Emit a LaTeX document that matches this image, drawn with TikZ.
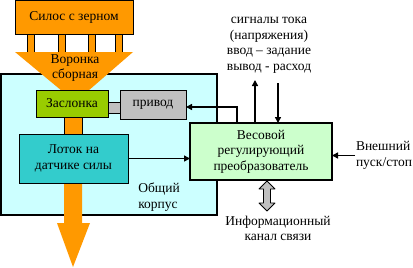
\documentclass[tikz,border=0pt]{standalone}
\usepackage{fontspec}
\setmainfont{Liberation Serif}
\usetikzlibrary{arrows.meta}
\definecolor{corange}{HTML}{FF9900}
\definecolor{ccyan}{HTML}{CCFFFF}
\definecolor{cgreen}{HTML}{CCFFCC}
\definecolor{colive}{HTML}{99CC00}
\definecolor{cteal}{HTML}{33CCCC}
\definecolor{cgray}{HTML}{C0C0C0}
\begin{document}
\begin{tikzpicture}[x=1pt,y=-1pt,
  font=\fontsize{13.5}{15.5}\selectfont,
  box/.style={draw=black, line width=1pt, inner sep=0pt, outer sep=0pt, align=center},
  thickbox/.style={box, line width=1.6pt},
  txt/.style={inner sep=0pt, outer sep=0pt, align=center},
  arr/.style={line width=1.5pt, -{Triangle[length=6pt,width=6pt]}},
  pillar/.style={fill=corange, draw=black, line width=0.8pt},
  blk/.style={fill=cgray, draw=black, line width=0.8pt, line join=round}]
\useasboundingbox (0,0) rectangle (413,268);

% common housing
\node[thickbox, fill=ccyan, minimum width=216pt, minimum height=141pt] (korpus) at (109,144.5) {};
\node[txt, align=left] (korpustxt) at (159,197) {Общий\\корпус};

% silo and pillars
\draw[pillar] (27,34) rectangle (34,53);
\draw[pillar] (58,34) rectangle (65,53);
\draw[pillar] (88,34) rectangle (95,53);
\draw[pillar] (115,34) rectangle (122,53);
\node[box, fill=corange, minimum width=118pt, minimum height=34pt] (silo) at (74,17.5) {Силос с зерном};

% funnel
\fill[corange] (15,52) -- (133,52) -- (88,91) -- (62,91) -- cycle;
\node[txt] (funnel) at (75,68) {Воронка\\сборная};

% pipe between gate and tray
\draw[pillar] (64,116) rectangle (82,135);

% outlet pipe with arrow
\fill[corange] (64,182) -- (82,182) -- (82,223) -- (90,223) -- (73,267) -- (57,223) -- (64,223) -- cycle;

% gate, link, drive
\node[box, fill=colive, minimum width=72pt, minimum height=27pt] (gate) at (72,103.5) {Заслонка};
\node[box, fill=cgray, minimum width=12pt, minimum height=11pt] (link) at (114,107.5) {};
\node[box, fill=cgray, minimum width=66pt, minimum height=29pt] (privod) at (153,104.5) {привод};

% tray on force sensor
\node[box, fill=cteal, minimum width=109pt, minimum height=49pt] (lotok) at (73.5,158.5) {Лоток на\\датчике силы};

% weighing controller
\node[thickbox, fill=cgreen, minimum width=142pt, minimum height=57pt] (ves) at (261,151.5) {Весовой\\регулирующий\\преобразователь};

% signals
\node[txt] (sig) at (269,45.5) {сигналы тока\\(напряжения)\\ввод – задание\\вывод - расход};
\coordinate (sigup) at (255,80);
\coordinate (sigdown) at (278,83);
\draw[arr] (ves.north -| sigup) -- (sigup);
\draw[arr, line width=2pt] (sigdown) -- (ves.north -| sigdown);

% connectors
\draw[arr] (lotok.east) -- (lotok.east -| ves.west);
\draw[arr] ([xshift=-24pt]ves.north) |- ([yshift=-2.5pt]privod.east);

% external start/stop
\node[txt, align=left, anchor=west, inner sep=1pt] (ext) at (355,155.5) {Внешний\\пуск/стоп};
\draw[arr] (ext.west) -- (ext.west -| ves.east);

% information channel
\node[txt] (info) at (278,228.5) {Информационный\\канал связи};
\draw[blk] ([xshift=6pt,yshift=-1pt]ves.south) -- ++(8,8) -- ++(-4.5,0) -- ++(0,14) -- ++(4.5,0)
  -- ++(-8,8) -- ++(-8,-8) -- ++(4.5,0) -- ++(0,-14) -- ++(-4.5,0) -- cycle;
\end{tikzpicture}
\end{document}
